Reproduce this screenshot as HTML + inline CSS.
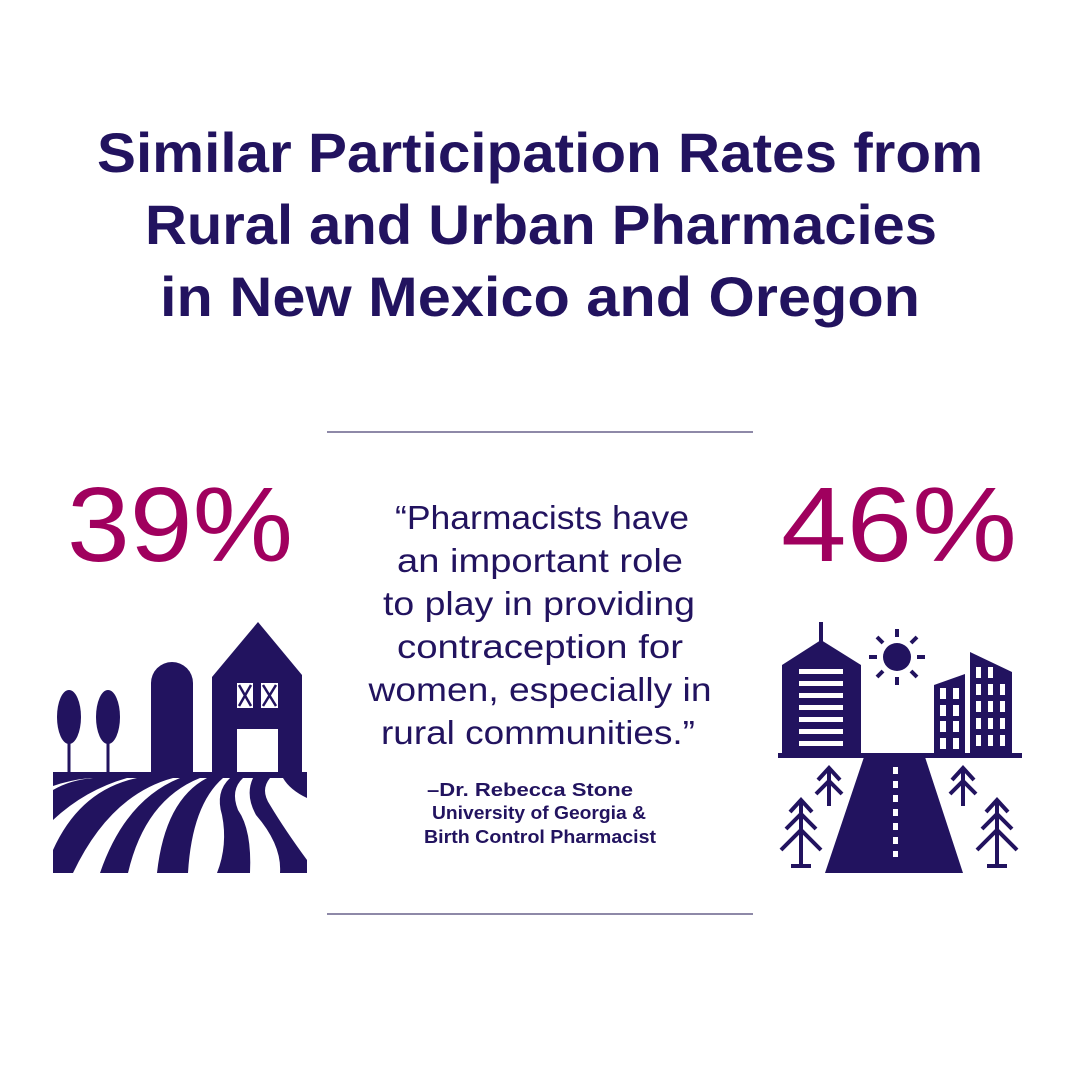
<!DOCTYPE html>
<html><head><meta charset="utf-8"><style>
html,body{margin:0;padding:0;background:#fff;}
svg{display:block}
</style></head><body>
<svg width="1080" height="1080" viewBox="0 0 1080 1080" xmlns="http://www.w3.org/2000/svg">
<rect width="1080" height="1080" fill="#fff"/>
<g fill="#22135f" font-family="Liberation Sans, sans-serif" font-weight="bold" font-size="56" text-anchor="middle">
<text x="540" y="172" textLength="886" lengthAdjust="spacingAndGlyphs">Similar Participation Rates from</text>
<text x="541" y="244" textLength="792" lengthAdjust="spacingAndGlyphs">Rural and Urban Pharmacies</text>
<text x="540" y="316" textLength="760" lengthAdjust="spacingAndGlyphs">in New Mexico and Oregon</text>
</g>
<line x1="327" y1="432" x2="753" y2="432" stroke="#8e89a8" stroke-width="2"/>
<line x1="327" y1="914" x2="753" y2="914" stroke="#8e89a8" stroke-width="2"/>
<g fill="#a0005e" font-family="Liberation Sans, sans-serif" font-size="106" text-anchor="middle">
<text x="180" y="561" textLength="226" lengthAdjust="spacingAndGlyphs">39%</text>
<text x="899" y="561" textLength="236" lengthAdjust="spacingAndGlyphs">46%</text>
</g>
<g fill="#22135f" font-family="Liberation Sans, sans-serif" font-size="33" text-anchor="middle">
<text x="542" y="529" textLength="294" lengthAdjust="spacingAndGlyphs">“Pharmacists have</text>
<text x="540" y="572" textLength="286" lengthAdjust="spacingAndGlyphs">an important role</text>
<text x="539" y="615" textLength="312" lengthAdjust="spacingAndGlyphs">to play in providing</text>
<text x="540" y="658" textLength="286" lengthAdjust="spacingAndGlyphs">contraception for</text>
<text x="540" y="701" textLength="343" lengthAdjust="spacingAndGlyphs">women, especially in</text>
<text x="538" y="744" textLength="314" lengthAdjust="spacingAndGlyphs">rural communities.”</text>
</g>
<g fill="#22135f" font-family="Liberation Sans, sans-serif" font-weight="bold" font-size="18" text-anchor="middle">
<text x="530" y="796" textLength="206" lengthAdjust="spacingAndGlyphs">–Dr. Rebecca Stone</text>
<text x="539" y="819" textLength="214" lengthAdjust="spacingAndGlyphs">University of Georgia &amp;</text>
<text x="540" y="843" textLength="232" lengthAdjust="spacingAndGlyphs">Birth Control Pharmacist</text>
</g>
<!-- Farm -->
<g fill="#22135f">
<ellipse cx="69" cy="717" rx="12" ry="27"/>
<rect x="67.5" y="740" width="3" height="33"/>
<ellipse cx="108" cy="717" rx="12" ry="27"/>
<rect x="106.5" y="740" width="3" height="33"/>
<path d="M151 683 A21 21 0 0 1 193 683 L193 773 L151 773 Z"/>
<path d="M212 677 L258 622 L302 675 L302 773 L212 773 Z"/>
<rect x="53" y="772" width="254" height="6"/>
</g>
<g fill="#fff">
<rect x="237" y="683" width="16" height="25"/><rect x="261" y="683" width="17" height="25"/>
<rect x="237" y="729" width="41" height="43"/>
</g>
<g stroke="#22135f" stroke-width="2.5">
<line x1="239" y1="685" x2="251" y2="706"/><line x1="251" y1="685" x2="239" y2="706"/>
<line x1="263" y1="685" x2="276" y2="706"/><line x1="276" y1="685" x2="263" y2="706"/>
</g>
<clipPath id="fc"><rect x="53" y="777" width="254" height="96"/></clipPath>
<g clip-path="url(#fc)" fill="#22135f">
<path d="M53 778 L90 778 Q70 780 53 786 Z"/>
<path d="M53 790 Q70 780 93 778 L127 778 Q85 790 53 820 Z"/>
<path d="M53 873 L73 873 Q110 795 173 778 L137 778 Q80 790 53 850 Z"/>
<path d="M100 873 L128 873 Q145 800 200 778 L180 778 Q125 800 100 873 Z"/>
<path d="M157 873 L188 873 Q192 805 223 778 L207 778 Q165 800 157 873 Z"/>
<path d="M217 873 L250 873 Q252 830 238 810 Q230 790 243 778 L230 778 Q215 792 222 815 Q228 845 217 873 Z"/>
<path d="M280 873 L307 873 L307 860 Q285 830 270 805 Q260 790 270 778 L253 778 Q245 795 256 815 Q282 845 280 873 Z"/>
<path d="M283 778 L307 778 L307 798 Q290 790 283 778 Z"/>
</g>
<!-- City -->
<g fill="#22135f">
<rect x="819" y="622" width="4" height="20"/>
<path d="M782 665 L821 640 L861 665 L861 754 L782 754 Z"/>
<circle cx="897" cy="657" r="14"/>
<path d="M934 685 L965 674 L965 754 L934 754 Z"/>
<path d="M970 652 L1012 672 L1012 754 L970 754 Z"/>
<rect x="778" y="753" width="244" height="5"/>
<path d="M864 757 L925 757 L963 873 L825 873 Z"/>
</g>
<g stroke="#22135f" stroke-width="4">
<line x1="897" y1="629" x2="897" y2="637"/><line x1="897" y1="677" x2="897" y2="685"/>
<line x1="869" y1="657" x2="877" y2="657"/><line x1="917" y1="657" x2="925" y2="657"/>
<line x1="877" y1="637" x2="883" y2="643"/><line x1="911" y1="671" x2="917" y2="677"/>
<line x1="917" y1="637" x2="911" y2="643"/><line x1="883" y1="671" x2="877" y2="677"/>
</g>
<g fill="#fff">
<rect x="799" y="669" width="44" height="5"/><rect x="799" y="681" width="44" height="5"/>
<rect x="799" y="693" width="44" height="5"/><rect x="799" y="705" width="44" height="5"/>
<rect x="799" y="717" width="44" height="5"/><rect x="799" y="729" width="44" height="5"/>
<rect x="799" y="741" width="44" height="5"/>
</g>
<g fill="#fff">
<rect x="940" y="688" width="6" height="11"/><rect x="953" y="688" width="6" height="11"/>
<rect x="940" y="705" width="6" height="11"/><rect x="953" y="705" width="6" height="11"/>
<rect x="940" y="721" width="6" height="11"/><rect x="953" y="721" width="6" height="11"/>
<rect x="940" y="738" width="6" height="11"/><rect x="953" y="738" width="6" height="11"/>
<rect x="976" y="667" width="5" height="11"/><rect x="988" y="667" width="5" height="11"/>
<rect x="976" y="684" width="5" height="11"/><rect x="988" y="684" width="5" height="11"/><rect x="1000" y="684" width="5" height="11"/>
<rect x="976" y="701" width="5" height="11"/><rect x="988" y="701" width="5" height="11"/><rect x="1000" y="701" width="5" height="11"/>
<rect x="976" y="718" width="5" height="11"/><rect x="988" y="718" width="5" height="11"/><rect x="1000" y="718" width="5" height="11"/>
<rect x="976" y="735" width="5" height="11"/><rect x="988" y="735" width="5" height="11"/><rect x="1000" y="735" width="5" height="11"/>
<rect x="893" y="767" width="5" height="7"/><rect x="893" y="781" width="5" height="7"/>
<rect x="893" y="795" width="5" height="7"/><rect x="893" y="809" width="5" height="7"/>
<rect x="893" y="823" width="5" height="7"/><rect x="893" y="837" width="5" height="7"/>
<rect x="893" y="851" width="5" height="6"/>
</g>
<g stroke="#22135f" stroke-width="4" fill="none">
<line x1="829" y1="768" x2="829" y2="806"/><path d="M818 780 L829 768 L840 780"/><path d="M816 794 L829 781 L842 794"/>
<line x1="963" y1="768" x2="963" y2="806"/><path d="M952 780 L963 768 L974 780"/><path d="M950 794 L963 781 L976 794"/>
<line x1="801" y1="800" x2="801" y2="866"/><path d="M790 812 L801 800 L812 812"/><path d="M786 829 L801 814 L816 829"/><path d="M781 850 L801 830 L821 850"/><line x1="791" y1="866" x2="811" y2="866"/>
<line x1="997" y1="800" x2="997" y2="866"/><path d="M986 812 L997 800 L1008 812"/><path d="M982 829 L997 814 L1012 829"/><path d="M977 850 L997 830 L1017 850"/><line x1="987" y1="866" x2="1007" y2="866"/>
</g>
</svg>
</body></html>
